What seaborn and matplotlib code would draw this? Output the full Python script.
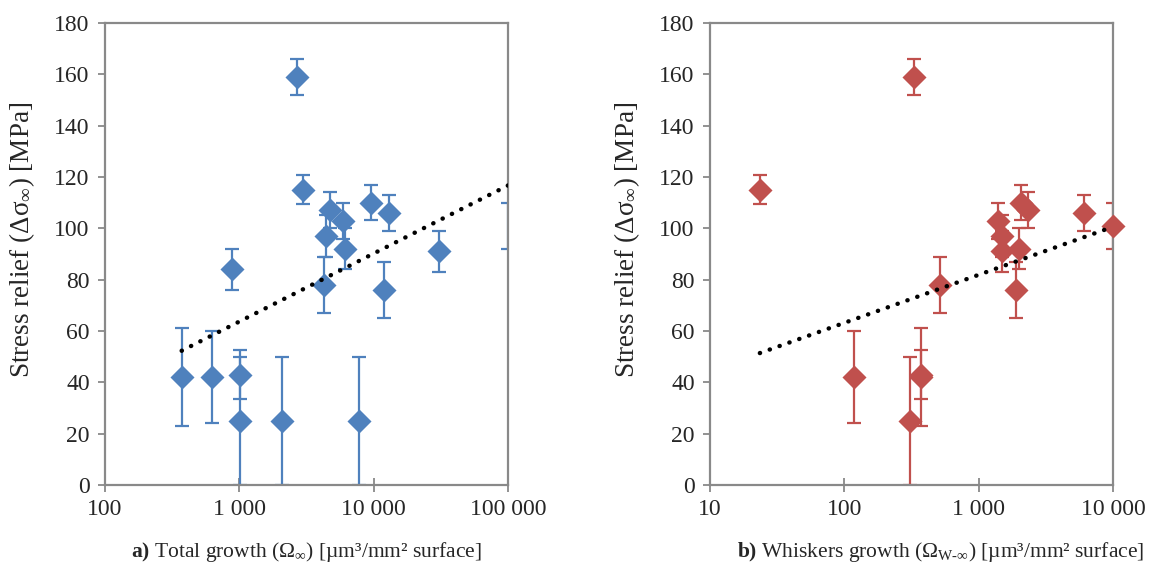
import numpy as np
import pandas as pd
import matplotlib
matplotlib.use("Agg")
import matplotlib.pyplot as plt
import seaborn as sns
from matplotlib.ticker import FixedLocator, FixedFormatter, NullLocator

# total growth (panel a)
tot_x = [372, 628, 878, 1012, 1012, 2083, 2680, 3000, 4290, 4440, 4750,
         5870, 6080, 7780, 9570, 11970, 12950, 30500, 100000]
tot_y = [42, 42, 84, 43, 25, 25, 159, 115, 78, 97, 107,
         103, 92, 25, 110, 76, 106, 91, 101]
tot_err = [19, 18, 8, 9.5, 25, 25, 7, 5.7, 11, 8, 7,
           7, 8, 25, 6.7, 11, 7, 8, 9]
# log trend line (start / end)
trend_a_x = [372, 100000]
trend_a_y = [52.3, 116.7]

# whiskers growth (panel b)
wh_x = [23.5, 330, 1393, 1490, 2052, 2327, 6070, 10000, 1490, 1982,
        519, 1897, 118, 375, 370, 307]
wh_y = [115, 159, 103, 97, 110, 107, 106, 101, 91, 92,
        78, 76, 42, 42, 43, 25]
wh_err = [5.7, 7, 7, 8, 6.7, 7, 7, 9, 8, 8,
          11, 11, 18, 19, 9.5, 25]
trend_b_x = [23.5, 10000]
trend_b_y = [51.4, 100.6]

ticks_a = [100, 1000, 10000, 100000]
labels_a = ["100", "1 000", "10 000", "100 000"]
ticks_b = [10, 100, 1000, 10000]
labels_b = ["10", "100", "1 000", "10 000"]
yticks = list(range(0, 181, 20))

blue = "#4F81BD"
red = "#C0504D"
grey = "#898989"

sns.set_style("white")
plt.rcParams["font.family"] = ["Liberation Serif", "DejaVu Serif"]
plt.rcParams["mathtext.fontset"] = "custom"
plt.rcParams["mathtext.rm"] = "Liberation Serif"
plt.rcParams["mathtext.it"] = "Liberation Serif:italic"
plt.rcParams["mathtext.bf"] = "Liberation Serif:bold"

fig = plt.figure(figsize=(11.53, 5.66), dpi=100)
ax1 = fig.add_axes([0.0911, 0.1431, 0.3495, 0.8163])
ax2 = fig.add_axes([0.6158, 0.1431, 0.3495, 0.8163])

da = pd.DataFrame({"x": tot_x, "y": tot_y, "err": tot_err})
db = pd.DataFrame({"x": wh_x, "y": wh_y, "err": wh_err})
ta = pd.DataFrame({"x": trend_a_x, "y": trend_a_y})
tb = pd.DataFrame({"x": trend_b_x, "y": trend_b_y})


def panel(ax, d, t, col, ticks, labels, xlabel, xlab_pos):
    ax.set_xscale("log")
    lo, hi = ticks[0], ticks[-1]
    ax.errorbar(d["x"], d["y"], yerr=d["err"], fmt="none", ecolor=col,
                elinewidth=1.6, capsize=5, capthick=1.6, zorder=2)
    # excel leaves out the marker sitting past the last tick in panel a
    shown = d[d["x"] <= hi * 1.0001] if col == red else d[d["x"] < hi]
    sns.scatterplot(data=shown, x="x", y="y", marker="D", s=150, color=col,
                    linewidth=0, ax=ax, zorder=3, clip_on=False)
    sns.lineplot(data=t, x="x", y="y", color="black", lw=3.2,
                 ls=(0, (0.05, 2.3)), dash_capstyle="round", ax=ax, zorder=4)
    ax.set_xlim(lo, hi)
    ax.set_ylim(0, 180)
    ax.xaxis.set_major_locator(FixedLocator(ticks))
    ax.xaxis.set_major_formatter(FixedFormatter(labels))
    ax.xaxis.set_minor_locator(NullLocator())
    ax.set_yticks(yticks)
    ax.tick_params(axis="y", direction="out", length=5, width=1.3,
                   color=grey, labelsize=17, pad=6, left=True)
    ax.tick_params(axis="x", direction="inout", length=10, width=1.3,
                   color=grey, labelsize=17, pad=5, bottom=True)
    for s in ax.spines.values():
        s.set_color(grey)
        s.set_linewidth(1.6)
    ax.set_ylabel("Stress relief (Δσ$_{∞}$) [MPa]", fontsize=19.5)
    ax.yaxis.set_label_coords(-0.168, 0.53)
    ax.set_xlabel(xlabel, fontsize=15.5)
    ax.xaxis.set_label_coords(xlab_pos, -0.118)


panel(ax1, da, ta, blue, ticks_a, labels_a,
      r"$\mathbf{a)}$ Total growth (Ω$_{∞}$) [µm³/mm² surface]", 0.5)
panel(ax2, db, tb, red, ticks_b, labels_b,
      r"$\mathbf{b)}$ Whiskers growth (Ω$_{\text{W-∞}}$) [µm³/mm² surface]",
      0.571)

fig.savefig("out.png", dpi=100)
